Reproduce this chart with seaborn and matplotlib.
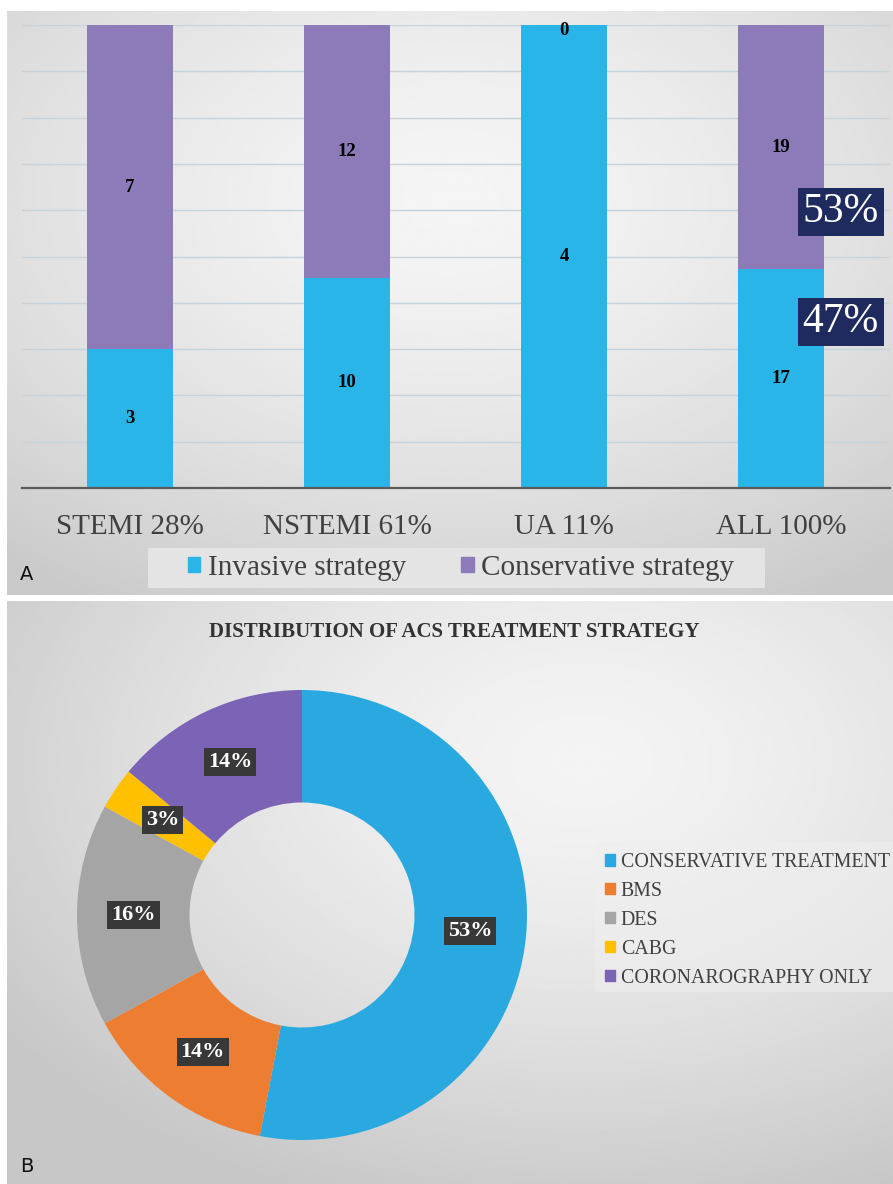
import numpy as np
import pandas as pd
import matplotlib
matplotlib.use("Agg")
import matplotlib.pyplot as plt
from matplotlib.patches import Patch, Rectangle
import seaborn as sns

# ---- panel A data: ACS patients by strategy ----
CATEGORIES = ["STEMI 28%", "NSTEMI 61%", "UA 11%", "ALL 100%"]
INVASIVE = [3, 10, 4, 17]
CONSERVATIVE = [7, 12, 0, 19]

# ---- panel B data: treatment distribution (%) ----
TREATMENTS = ["CONSERVATIVE TREATMENT", "BMS", "DES", "CABG", "CORONAROGRAPHY ONLY"]
TREATMENT_PCT = [53, 14, 16, 3, 14]

BLUE_A = "#29b5e8"
PURPLE_A = "#8d7bb9"
DONUT_COLORS = ["#29a9e0", "#ed7d31", "#a5a5a5", "#ffc000", "#7b64b5"]
TEXT_GREY = "#404040"

W, H = 893, 1184


def px_rect(x0, y0, x1, y1):
    """pixel box (origin top-left) -> figure rect [l, b, w, h]"""
    return [x0 / W, 1 - y1 / H, (x1 - x0) / W, (y1 - y0) / H]


def gradient_bg(fig, rect, light, dark, cx=0.0, cy=0.0):
    # cy < 0 moves the bright spot to the top of the panel
    ax = fig.add_axes(rect, zorder=0)
    xx, yy = np.meshgrid(np.linspace(-1, 1, 300), np.linspace(-1, 1, 300))
    r = np.clip(np.sqrt((xx - cx) ** 2 + (yy - cy) ** 2) / 1.6, 0, 1)
    img = light + (dark - light) * r ** 1.5
    ax.imshow(img, cmap="gray", vmin=0, vmax=1, aspect="auto",
              extent=(0, 1, 0, 1), interpolation="bilinear")
    ax.set_axis_off()
    return ax


sns.set_theme(style="white")
plt.rcParams["font.family"] = ["Liberation Serif", "DejaVu Serif"]

fig = plt.figure(figsize=(W / 100, H / 100), dpi=100, facecolor="white")

# backgrounds of the two panels
gradient_bg(fig, px_rect(7, 11, 893, 595), light=0.96, dark=0.79, cx=0.0, cy=-0.35)
gradient_bg(fig, px_rect(7, 601, 893, 1184), light=0.955, dark=0.78, cx=0.3, cy=-0.45)

# ================= Panel A : stacked 100% bars =================
df = pd.DataFrame({"category": CATEGORIES, "invasive": INVASIVE, "conservative": CONSERVATIVE})
df["total"] = df["invasive"] + df["conservative"]
df["inv_pct"] = 100 * df["invasive"] / df["total"]
df["cons_pct"] = 100 * df["conservative"] / df["total"]
df["stack_top"] = df["inv_pct"] + df["cons_pct"]

ax = fig.add_axes(px_rect(21.5, 25, 889.5, 488), zorder=2)
ax.set_facecolor("none")
sns.barplot(data=df, x="category", y="stack_top", color=PURPLE_A, width=0.396,
            saturation=1, errorbar=None, linewidth=0, ax=ax)
sns.barplot(data=df, x="category", y="inv_pct", color=BLUE_A, width=0.396,
            saturation=1, errorbar=None, linewidth=0, ax=ax)
ax.set_xlim(-0.5, 3.5)
ax.set_ylim(0, 100)
ax.set_yticks(np.arange(10, 101, 10))
ax.yaxis.grid(True, color="#c6d3dc", lw=1.0)
ax.set_axisbelow(True)
ax.tick_params(axis="y", length=0, labelleft=False)
ax.tick_params(axis="x", length=0, pad=19, labelsize=21, labelcolor=TEXT_GREY)
ax.set_xlabel("")
ax.set_ylabel("")
for s in ["top", "left", "right"]:
    ax.spines[s].set_visible(False)
ax.spines["bottom"].set_color("#5a5a5a")
ax.spines["bottom"].set_linewidth(1.6)

for i, row in df.iterrows():
    ax.text(i, row["inv_pct"] / 2, f"{row['invasive']}", ha="center", va="center",
            fontsize=13.5, fontweight="bold", color="black")
    ax.text(i, row["inv_pct"] + row["cons_pct"] / 2 - (1.2 if row["conservative"] == 0 else 0),
            f"{row['conservative']}", ha="center", va="center",
            fontsize=13.5, fontweight="bold", color="black")

# share boxes next to the ALL bar
last = df.iloc[-1]
for share, ypos in [(last["cons_pct"], 59.6), (last["inv_pct"], 35.9)]:
    ax.text(3.275, ypos, f"{share:.0f}%", ha="center", va="center", fontsize=30,
            color="white", clip_on=False,
            bbox=dict(boxstyle="square,pad=0.12", facecolor="#1f2a5e", edgecolor="none"))

# legend A with its own grey band
fig.add_artist(Rectangle((148 / W, 1 - 588 / H), (765 - 148) / W, 40 / H,
                         transform=fig.transFigure, facecolor="#e4e4e4", edgecolor="none", zorder=1))
handles_a = [Patch(color=BLUE_A, label="Invasive strategy"),
             Patch(color=PURPLE_A, label="Conservative strategy")]
fig.legend(handles=handles_a, loc="center", bbox_to_anchor=(461 / W, 1 - 568 / H), ncol=2,
           fontsize=21, labelcolor=TEXT_GREY, frameon=False, handlelength=0.42,
           handleheight=0.42, handletextpad=0.25, columnspacing=1.9, borderpad=0)

fig.text(20 / W, 1 - 575 / H, "A", family="DejaVu Sans", fontsize=14, va="center", color="#111111")

# ================= Panel B : donut =================
fig.text(454 / W, 1 - 632 / H, "DISTRIBUTION OF ACS TREATMENT STRATEGY", ha="center", va="center",
         fontsize=15, fontweight="bold", color="#333333")

cx, cy, R = 302, 915, 225
half = 240
axd = fig.add_axes(px_rect(cx - half, cy - half, cx + half, cy + half), zorder=2)
axd.set_facecolor("none")
axd.pie(TREATMENT_PCT, colors=DONUT_COLORS, startangle=90, counterclock=False, radius=1.0,
        wedgeprops=dict(width=0.5, linewidth=0))
axd.set_xlim(-half / R, half / R)
axd.set_ylim(-half / R, half / R)
axd.set_aspect("equal")
axd.axis("off")

cum = np.cumsum([0] + TREATMENT_PCT[:-1])
for start, pct in zip(cum, TREATMENT_PCT):
    ang = np.deg2rad(90 - 3.6 * (start + pct / 2))
    axd.text(0.75 * np.cos(ang), 0.75 * np.sin(ang), f"{pct}%", ha="center", va="center",
             fontsize=16, fontweight="bold", color="white",
             bbox=dict(boxstyle="square,pad=0.18", facecolor="#383838", edgecolor="none"))

fig.add_artist(Rectangle((595 / W, 1 - 992 / H), (893 - 595) / W, 150 / H,
                         transform=fig.transFigure, facecolor="#efefef", alpha=0.5,
                         edgecolor="none", zorder=1))
handles_b = [Patch(color=c, label=t) for c, t in zip(DONUT_COLORS, TREATMENTS)]
fig.legend(handles=handles_b, loc="upper left", bbox_to_anchor=(595 / W, 1 - 843 / H),
           fontsize=14.3, labelcolor=TEXT_GREY, frameon=False, handlelength=0.5,
           handleheight=0.5, handletextpad=0.3, labelspacing=0.5, borderpad=0)

fig.text(20 / W, 1 - 1167 / H, "B", family="DejaVu Sans", fontsize=14, va="center", color="#111111")

fig.savefig("out.png", dpi=100, facecolor="white")
